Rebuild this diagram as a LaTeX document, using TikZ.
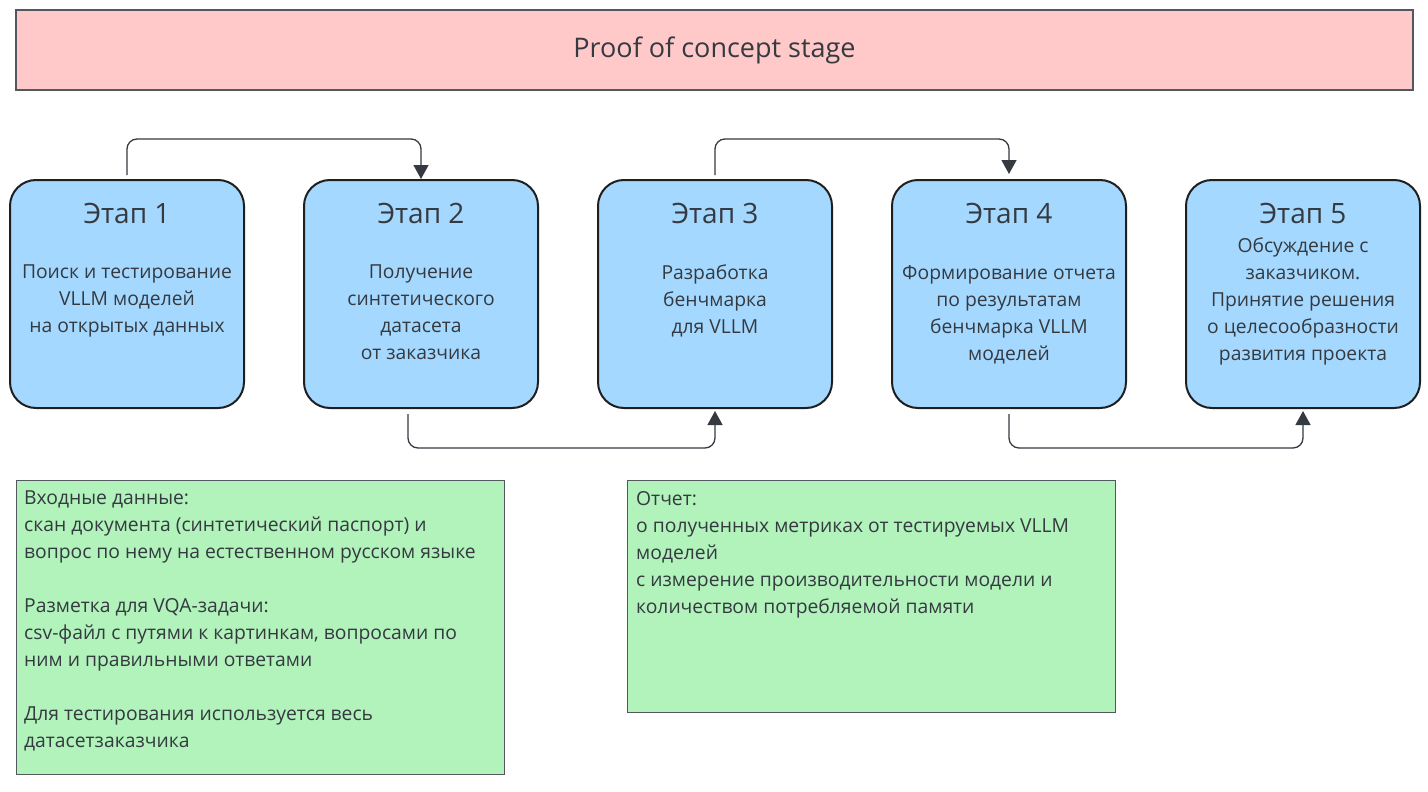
\documentclass[tikz,border=0pt]{standalone}
\usepackage{fontspec}
\setmainfont{Open Sans}
\usetikzlibrary{arrows.meta,positioning}
\definecolor{stageblue}{HTML}{A5D8FF}
\definecolor{notegreen}{HTML}{B2F2BB}
\definecolor{bannerpink}{HTML}{FFC9C9}
\definecolor{inkgrey}{HTML}{343A40}

\begin{document}
\begin{tikzpicture}[x=1pt, y=-1pt,
    stage/.style={draw=black!88, line width=2pt, fill=stageblue, rounded corners=26pt,
                  minimum width=234pt, minimum height=228pt, inner sep=0pt},
    stagetitle/.style={text=inkgrey, font=\fontsize{28}{32}\selectfont},
    stagetext/.style={text=inkgrey, align=center, anchor=north, inner sep=0pt,
                      font=\fontsize{19.3}{27}\selectfont},
    note/.style={draw=inkgrey!85, line width=1.3pt, fill=notegreen, anchor=north west,
                 minimum width=488pt, inner sep=0pt},
    notetext/.style={text=inkgrey, align=left, anchor=north west, inner sep=0pt,
                     font=\fontsize{19.3}{27}\selectfont},
    link/.style={draw=inkgrey, line width=1.3pt, rounded corners=10pt},
    >={Triangle[length=14pt,width=15pt]}]
    \useasboundingbox (0,0) rectangle (1428,792);

    % banner
    \node[draw=inkgrey!85, line width=1.3pt, fill=bannerpink, minimum width=1397pt, minimum height=80pt,
          text=inkgrey, font=\fontsize{27}{32}\selectfont] (banner) at (714.5,50) {Proof of concept stage};

    % stages
    \node[stage] (s1) at (127,294) {};
    \node[stage, right=58pt of s1] (s2) {};
    \node[stage, right=58pt of s2] (s3) {};
    \node[stage, right=58pt of s3] (s4) {};
    \node[stage, right=58pt of s4] (s5) {};

    \foreach \i in {1,...,5}
        \node[stagetitle] (t\i) at ([yshift=-34pt]s\i.north) {Этап \i};

    \node[stagetext] (b1) at ([yshift=-86pt]s1.north) {Поиск и тестирование\\VLLM моделей\\на открытых данных};
    \node[stagetext] (b2) at ([yshift=-86pt]s2.north) {Получение\\синтетического\\датасета\\от заказчика};
    \node[stagetext] (b3) at ([yshift=-86pt]s3.north) {Разработка\\бенчмарка\\для VLLM};
    \node[stagetext] (b4) at ([yshift=-86pt]s4.north) {Формирование отчета\\по результатам\\бенчмарка VLLM\\моделей};
    \node[stagetext] (b5) at ([yshift=-59pt]s5.north) {Обсуждение с\\заказчиком.\\Принятие решения\\о целесообразности\\развития проекта};

    % connectors
    \draw[link,->] ([yshift=4pt]s1.north) |- ([yshift=40pt]s2.north) -- (s2.north);
    \draw[link,->] ([yshift=4pt]s3.north) |- ([yshift=40pt]s4.north) -- ([yshift=5pt]s4.north);
    \draw[link,->] ([xshift=-13pt,yshift=-5pt]s2.south) |- ([yshift=-39pt]s3.south) -- ([yshift=-2pt]s3.south);
    \draw[link,->] ([yshift=-5pt]s4.south) |- ([yshift=-39pt]s5.south) -- ([yshift=-2pt]s5.south);

    % notes
    \node[note, minimum height=294pt] (noteA) at (16,480) {};
    \node[note, minimum height=232pt] (noteB) at (627,480) {};

    \node[notetext] (noteAtext) at ([xshift=8pt,yshift=-11pt]noteA.north west)
        {Входные данные:\\скан документа (синтетический паспорт) и\\вопрос по нему на естественном русском языке\\[27pt]
         Разметка для VQA-задачи:\\csv-файл с путями к картинкам, вопросами по\\ним и правильными ответами\\[27pt]
         Для тестирования используется весь\\датасетзаказчика};
    \node[notetext] (noteBtext) at ([xshift=9pt,yshift=-11pt]noteB.north west)
        {Отчет:\\о полученных метриках от тестируемых VLLM\\моделей\\с измерение производительности модели и\\количеством потребляемой памяти};
\end{tikzpicture}
\end{document}
